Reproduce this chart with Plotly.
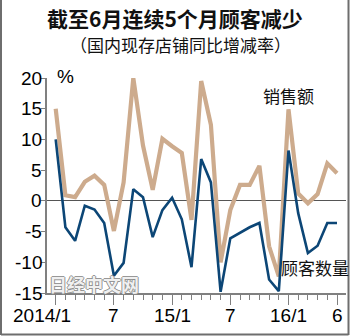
import plotly.graph_objects as go

# Monthly year-on-year change (%) at existing domestic stores, 2014/1 – 2016/6
sales = [15, 0.9, 0.6, 3.1, 4.1, 2.6, -4.9, 3, 20, 9, 1.8, 10.1, 8.9, 7.8, -3.1,
         19.5, 12.4, -10, -1.5, 2.6, 2.6, 5.7, -7.4, -12.3, 14.9, 1.2, -0.4, 1.1, 6.1, 4.5]
customers = [10, -4.3, -6.5, -0.8, -1.4, -3.6, -12.2, -10.1, 1.9, 0.6, -5.9, -1.5, 0.5, -3,
             -10.8, 6.8, 3, -14.8, -6.1, -5.2, -4.3, -3.6, -12.8, -14.7, 8.2, -2, -8.5, -7.3,
             -3.6, -3.6]
months = list(range(len(sales)))

tick_months = [0, 6, 12, 18, 24, 29]
tick_labels = ["2014/1", "7", "15/1", "7", "16/1", "6"]
y_ticks = [-15, -10, -5, 0, 5, 10, 15, 20]
y_labels = ["-15", "-10", "-5", "0", "5", "10", "15", "20"]

TAN = "#CDAB8D"
BLUE = "#0C4676"
AXIS = "#808080"
NUM_FONT = "Liberation Sans, Arial, sans-serif"
CJK_FONT = "Noto Sans CJK SC, sans-serif"

W, H = 350, 336
L, R, T, B = 47, 346, 78, 293
X0, DX = 55.7, 9.7  # pixel position of first month and spacing


def px(x):
    return (x - L) / (R - L)


def py(y):
    return (B - y) / (B - T)


fig = go.Figure()
fig.add_trace(go.Scatter(x=months, y=sales, mode="lines", name="销售额",
                         line=dict(color=TAN, width=4.2), hoverinfo="skip"))
fig.add_trace(go.Scatter(x=months, y=customers, mode="lines", name="顾客数量",
                         line=dict(color=BLUE, width=2.6), hoverinfo="skip"))

fig.update_layout(
    width=W, height=H,
    margin=dict(l=L, r=W - R, t=T, b=H - B),
    paper_bgcolor="white", plot_bgcolor="white",
    showlegend=False,
    font=dict(family=NUM_FONT, color="black"),
)

fig.update_xaxes(
    range=[(L - X0) / DX, (R - X0) / DX],
    tickmode="array", tickvals=tick_months, showticklabels=False,
    ticks="outside", ticklen=10, tickwidth=1, tickcolor=AXIS,
    minor=dict(dtick=1, tick0=0, ticks="outside", ticklen=5, tickcolor=AXIS, tickwidth=1),
    showline=True, linecolor=AXIS, linewidth=1.5,
    showgrid=False, zeroline=False,
    fixedrange=True,
)
fig.update_yaxes(
    range=[-15, 20],
    tickmode="array", tickvals=y_ticks, showticklabels=False,
    ticks="outside", ticklen=4, tickwidth=1, tickcolor=AXIS,
    showline=True, linecolor=AXIS, linewidth=1.5,
    showgrid=False, zeroline=True, zerolinecolor="#555555", zerolinewidth=1,
    fixedrange=True,
)

num = dict(size=19, family=NUM_FONT, color="black")
ann = []
# month labels under the axis; the first one sits a little left of its tick
for m, lab in zip(tick_months, tick_labels):
    ann.append(dict(x=m, y=0, xref="x", yref="paper", text=lab, showarrow=False,
                    xanchor="center", yanchor="top", yshift=-10,
                    xshift=-14 if m == tick_months[0] else 0, font=num))
# value labels beside the vertical axis
for v, lab in zip(y_ticks, y_labels):
    ann.append(dict(x=0, y=v, xref="paper", yref="y", text=lab, showarrow=False,
                    xanchor="right", yanchor="middle", xshift=-3, font=num))
ann.append(dict(x=px(55), y=py(77), xref="paper", yref="paper", text="%", showarrow=False,
                xanchor="left", yanchor="middle", font=num))
ann.append(dict(x=px(175), y=py(18), xref="paper", yref="paper",
                text="<b>截至6月连续5个月顾客减少</b>", showarrow=False,
                xanchor="center", yanchor="middle",
                font=dict(size=21, family=CJK_FONT, color="#111111")))
ann.append(dict(x=px(180), y=py(44.5), xref="paper", yref="paper",
                text="（国内现存店铺同比增减率）", showarrow=False,
                xanchor="center", yanchor="middle",
                font=dict(size=17, family=CJK_FONT, color="#111111")))
ann.append(dict(x=px(288), y=py(95), xref="paper", yref="paper", text="销售额",
                showarrow=False, xanchor="center", yanchor="middle",
                font=dict(size=17, family=CJK_FONT, color="#111111")))
ann.append(dict(x=px(315), y=py(267.5), xref="paper", yref="paper", text="顾客数量",
                showarrow=False, xanchor="center", yanchor="middle",
                font=dict(size=17, family=CJK_FONT, color="#111111")))
ann.append(dict(x=px(94), y=py(284), xref="paper", yref="paper", text="<b>日经中文网</b>",
                showarrow=False, xanchor="center", yanchor="middle",
                font=dict(size=18, family=CJK_FONT, color="rgba(255,255,255,0.9)",
                          shadow="1px 0 0 #8a8a8a, -1px 0 0 #8a8a8a, 0 1px 0 #8a8a8a, 0 -1px 0 #8a8a8a")))
fig.update_layout(annotations=ann)

# frame around the graphic
frame = dict(type="line", xref="paper", yref="paper", line=dict(color="#6e6e6e", width=2))
fig.add_shape(**frame, x0=px(1), x1=px(1), y0=py(0), y1=py(335))
fig.add_shape(**frame, x0=px(348.5), x1=px(348.5), y0=py(0), y1=py(335))
fig.add_shape(**frame, x0=px(1), x1=px(348.5), y0=py(334.5), y1=py(334.5))

fig.write_html("out.html")
